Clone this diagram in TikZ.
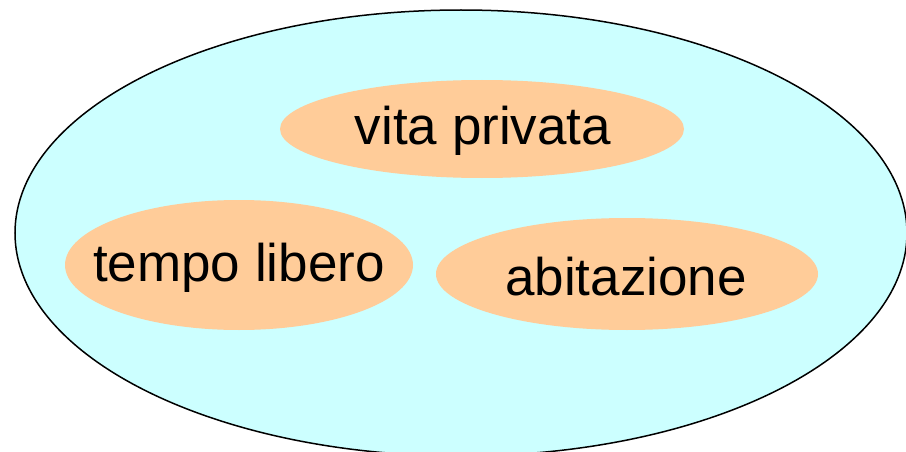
\documentclass[tikz,border=0pt]{standalone}
\usepackage{fontspec}
\setmainfont{Liberation Sans}
\definecolor{celeste}{HTML}{CCFFFF}
\definecolor{pesca}{HTML}{FFCC99}
\tikzset{
  etichetta/.style={inner sep=0pt, font=\fontsize{53}{60}\selectfont},
}

\begin{document}
\begin{tikzpicture}[x=1pt, y=-1pt]
                            \useasboundingbox (0,0) rectangle (906,452);
                            \draw[line width=1.5pt, fill=celeste] (461,233) ellipse [x radius=446, y radius=223];
                            \fill[pesca] (482,129) ellipse [x radius=202, y radius=49];
                            \fill[pesca] (239,265) ellipse [x radius=174, y radius=65];
                            \fill[pesca] (627,274) ellipse [x radius=191, y radius=56];
                            \node[etichetta] (privata) at (483,131) {vita privata};
                            \node[etichetta] (tempo) at (239,268) {tempo libero};
                            \node[etichetta] (casa) at (626,277) {abitazione};
                        \end{tikzpicture}
\end{document}
